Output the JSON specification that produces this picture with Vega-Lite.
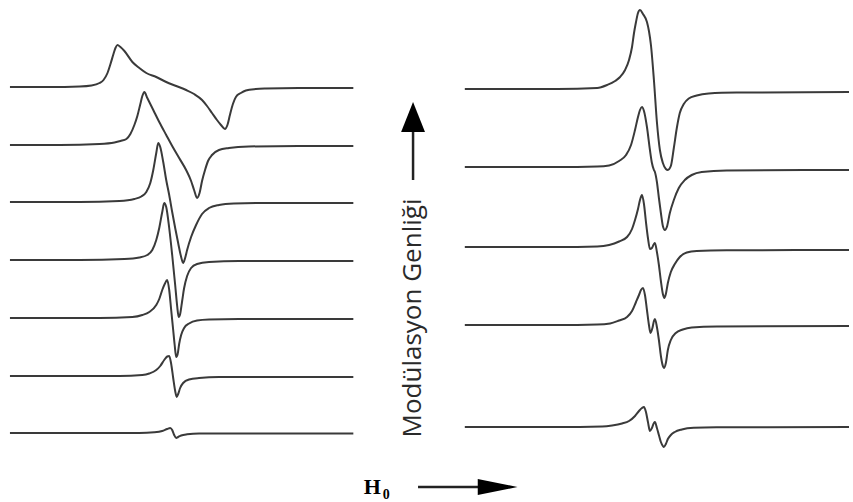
{
  "$schema": "https://vega.github.io/schema/vega-lite/v6.json",
  "width": 853,
  "height": 502,
  "padding": 0,
  "autosize": {"type": "fit", "contains": "padding"},
  "background": "white",
  "config": {"view": {"stroke": null}},
  "datasets": {
    "curves": [
      {"trace":"L1","H":10,"signal":87},{"trace":"L1","H":50,"signal":87},{"trace":"L1","H":80,"signal":86.5},{"trace":"L1","H":92,"signal":85.5},{"trace":"L1","H":100,"signal":83},{"trace":"L1","H":104,"signal":80},{"trace":"L1","H":108,"signal":73},{"trace":"L1","H":111,"signal":64},{"trace":"L1","H":114,"signal":54},{"trace":"L1","H":116,"signal":48},{"trace":"L1","H":118,"signal":45},{"trace":"L1","H":121,"signal":47},{"trace":"L1","H":125,"signal":51},{"trace":"L1","H":133,"signal":62},{"trace":"L1","H":140,"signal":68},{"trace":"L1","H":147,"signal":73},{"trace":"L1","H":157,"signal":77},{"trace":"L1","H":167,"signal":82},{"trace":"L1","H":177,"signal":86},{"trace":"L1","H":187,"signal":90},{"trace":"L1","H":195,"signal":94},{"trace":"L1","H":203,"signal":100},{"trace":"L1","H":208,"signal":106},{"trace":"L1","H":213,"signal":113},{"trace":"L1","H":218,"signal":120},{"trace":"L1","H":222,"signal":125},{"trace":"L1","H":226,"signal":129},{"trace":"L1","H":228.5,"signal":125},{"trace":"L1","H":231,"signal":115},{"trace":"L1","H":234,"signal":104},{"trace":"L1","H":237,"signal":97},{"trace":"L1","H":242,"signal":93},{"trace":"L1","H":247,"signal":90.5},{"trace":"L1","H":257,"signal":89},{"trace":"L1","H":267,"signal":88.5},{"trace":"L1","H":300,"signal":88},{"trace":"L1","H":355,"signal":88},
      {"trace":"L2","H":10,"signal":145},{"trace":"L2","H":60,"signal":145},{"trace":"L2","H":100,"signal":144},{"trace":"L2","H":115,"signal":142.5},{"trace":"L2","H":121,"signal":141},{"trace":"L2","H":127,"signal":139},{"trace":"L2","H":131,"signal":134},{"trace":"L2","H":135,"signal":125},{"trace":"L2","H":138,"signal":116},{"trace":"L2","H":141,"signal":104},{"trace":"L2","H":143,"signal":96},{"trace":"L2","H":145,"signal":92},{"trace":"L2","H":148,"signal":98},{"trace":"L2","H":154,"signal":110},{"trace":"L2","H":160,"signal":122},{"trace":"L2","H":167,"signal":135},{"trace":"L2","H":173,"signal":146},{"trace":"L2","H":180,"signal":158},{"trace":"L2","H":187,"signal":170},{"trace":"L2","H":192,"signal":181},{"trace":"L2","H":195,"signal":190},{"trace":"L2","H":198,"signal":198},{"trace":"L2","H":200.5,"signal":193},{"trace":"L2","H":203,"signal":181},{"trace":"L2","H":206,"signal":170},{"trace":"L2","H":209,"signal":161},{"trace":"L2","H":213,"signal":155},{"trace":"L2","H":220,"signal":150},{"trace":"L2","H":230,"signal":148},{"trace":"L2","H":250,"signal":146.5},{"trace":"L2","H":300,"signal":146},{"trace":"L2","H":355,"signal":146},
      {"trace":"L3","H":10,"signal":202},{"trace":"L3","H":80,"signal":202},{"trace":"L3","H":120,"signal":201},{"trace":"L3","H":135,"signal":199},{"trace":"L3","H":142,"signal":196.5},{"trace":"L3","H":147,"signal":192},{"trace":"L3","H":151,"signal":183},{"trace":"L3","H":154,"signal":170},{"trace":"L3","H":157,"signal":153},{"trace":"L3","H":159,"signal":143},{"trace":"L3","H":161,"signal":147},{"trace":"L3","H":164,"signal":162},{"trace":"L3","H":167,"signal":180},{"trace":"L3","H":170,"signal":195},{"trace":"L3","H":173,"signal":212},{"trace":"L3","H":176,"signal":228},{"trace":"L3","H":179,"signal":243},{"trace":"L3","H":182,"signal":257},{"trace":"L3","H":184,"signal":263},{"trace":"L3","H":186,"signal":258},{"trace":"L3","H":188,"signal":250},{"trace":"L3","H":192,"signal":237},{"trace":"L3","H":197,"signal":225},{"trace":"L3","H":203,"signal":214},{"trace":"L3","H":210,"signal":208},{"trace":"L3","H":220,"signal":205},{"trace":"L3","H":235,"signal":203.5},{"trace":"L3","H":260,"signal":203},{"trace":"L3","H":355,"signal":203},
      {"trace":"L4","H":10,"signal":260},{"trace":"L4","H":80,"signal":260},{"trace":"L4","H":125,"signal":259},{"trace":"L4","H":140,"signal":257.5},{"trace":"L4","H":148,"signal":255},{"trace":"L4","H":153,"signal":250},{"trace":"L4","H":157,"signal":240},{"trace":"L4","H":160,"signal":228},{"trace":"L4","H":163,"signal":212},{"trace":"L4","H":165,"signal":203},{"trace":"L4","H":167,"signal":207},{"trace":"L4","H":170,"signal":228},{"trace":"L4","H":173,"signal":255},{"trace":"L4","H":176,"signal":285},{"trace":"L4","H":178,"signal":306},{"trace":"L4","H":179.5,"signal":317},{"trace":"L4","H":181,"signal":314},{"trace":"L4","H":183,"signal":301},{"trace":"L4","H":185,"signal":288},{"trace":"L4","H":188,"signal":276},{"trace":"L4","H":192,"signal":268},{"trace":"L4","H":198,"signal":264},{"trace":"L4","H":210,"signal":262},{"trace":"L4","H":240,"signal":261},{"trace":"L4","H":355,"signal":261},
      {"trace":"L5","H":10,"signal":318},{"trace":"L5","H":100,"signal":318},{"trace":"L5","H":133,"signal":317},{"trace":"L5","H":143,"signal":315},{"trace":"L5","H":150,"signal":312},{"trace":"L5","H":157,"signal":305},{"trace":"L5","H":160,"signal":299},{"trace":"L5","H":163,"signal":290},{"trace":"L5","H":165.5,"signal":284},{"trace":"L5","H":168,"signal":280},{"trace":"L5","H":170,"signal":290},{"trace":"L5","H":172,"signal":310},{"trace":"L5","H":174,"signal":330},{"trace":"L5","H":175.5,"signal":345},{"trace":"L5","H":177,"signal":357},{"trace":"L5","H":178.5,"signal":354},{"trace":"L5","H":180,"signal":344},{"trace":"L5","H":182,"signal":335},{"trace":"L5","H":185,"signal":328},{"trace":"L5","H":190,"signal":323.5},{"trace":"L5","H":198,"signal":320.5},{"trace":"L5","H":210,"signal":319.5},{"trace":"L5","H":240,"signal":319},{"trace":"L5","H":355,"signal":319},
      {"trace":"L6","H":10,"signal":376},{"trace":"L6","H":120,"signal":376},{"trace":"L6","H":143,"signal":375},{"trace":"L6","H":150,"signal":373.5},{"trace":"L6","H":157,"signal":370},{"trace":"L6","H":161,"signal":366},{"trace":"L6","H":165,"signal":360},{"trace":"L6","H":168,"signal":356.5},{"trace":"L6","H":170,"signal":356},{"trace":"L6","H":172,"signal":364},{"trace":"L6","H":174,"signal":378},{"trace":"L6","H":176,"signal":391},{"trace":"L6","H":177.5,"signal":397},{"trace":"L6","H":179,"signal":394},{"trace":"L6","H":181,"signal":388},{"trace":"L6","H":184,"signal":383},{"trace":"L6","H":190,"signal":379.5},{"trace":"L6","H":200,"signal":378},{"trace":"L6","H":220,"signal":377},{"trace":"L6","H":355,"signal":377},
      {"trace":"L7","H":10,"signal":433},{"trace":"L7","H":140,"signal":433},{"trace":"L7","H":155,"signal":432.3},{"trace":"L7","H":163,"signal":431},{"trace":"L7","H":168,"signal":429},{"trace":"L7","H":171,"signal":428},{"trace":"L7","H":173,"signal":430},{"trace":"L7","H":175,"signal":435},{"trace":"L7","H":177,"signal":438},{"trace":"L7","H":179,"signal":437},{"trace":"L7","H":182,"signal":435.5},{"trace":"L7","H":188,"signal":434.3},{"trace":"L7","H":200,"signal":433.5},{"trace":"L7","H":355,"signal":433.5},
      {"trace":"R1","H":467,"signal":89},{"trace":"R1","H":560,"signal":89},{"trace":"R1","H":600,"signal":88},{"trace":"R1","H":610,"signal":85},{"trace":"R1","H":618,"signal":81},{"trace":"R1","H":623,"signal":77},{"trace":"R1","H":628,"signal":70},{"trace":"R1","H":632,"signal":60},{"trace":"R1","H":635,"signal":47},{"trace":"R1","H":637,"signal":33},{"trace":"R1","H":639,"signal":22},{"trace":"R1","H":641,"signal":13},{"trace":"R1","H":643,"signal":10},{"trace":"R1","H":646,"signal":14},{"trace":"R1","H":650,"signal":22},{"trace":"R1","H":652,"signal":31},{"trace":"R1","H":654,"signal":45},{"trace":"R1","H":657,"signal":80},{"trace":"R1","H":660,"signal":122},{"trace":"R1","H":663,"signal":150},{"trace":"R1","H":666,"signal":163},{"trace":"R1","H":669,"signal":169},{"trace":"R1","H":671,"signal":170},{"trace":"R1","H":674,"signal":166},{"trace":"R1","H":677,"signal":148},{"trace":"R1","H":680,"signal":128},{"trace":"R1","H":683,"signal":113},{"trace":"R1","H":687,"signal":104},{"trace":"R1","H":692,"signal":98.5},{"trace":"R1","H":700,"signal":95.5},{"trace":"R1","H":712,"signal":93.5},{"trace":"R1","H":740,"signal":92.5},{"trace":"R1","H":853,"signal":92},
      {"trace":"R2","H":467,"signal":167},{"trace":"R2","H":560,"signal":167},{"trace":"R2","H":600,"signal":166.5},{"trace":"R2","H":612,"signal":165.5},{"trace":"R2","H":622,"signal":161},{"trace":"R2","H":629,"signal":155},{"trace":"R2","H":634,"signal":145},{"trace":"R2","H":638,"signal":130},{"trace":"R2","H":641,"signal":117},{"trace":"R2","H":643,"signal":110},{"trace":"R2","H":645,"signal":107},{"trace":"R2","H":647,"signal":111},{"trace":"R2","H":650,"signal":127},{"trace":"R2","H":653,"signal":150},{"trace":"R2","H":655,"signal":163},{"trace":"R2","H":657,"signal":170},{"trace":"R2","H":658,"signal":172},{"trace":"R2","H":660,"signal":182},{"trace":"R2","H":662,"signal":198},{"trace":"R2","H":664,"signal":213},{"trace":"R2","H":666,"signal":226},{"trace":"R2","H":668,"signal":230},{"trace":"R2","H":670,"signal":227},{"trace":"R2","H":673,"signal":213},{"trace":"R2","H":677,"signal":200},{"trace":"R2","H":682,"signal":188},{"trace":"R2","H":688,"signal":180},{"trace":"R2","H":695,"signal":175},{"trace":"R2","H":705,"signal":172},{"trace":"R2","H":730,"signal":170.5},{"trace":"R2","H":853,"signal":170},
      {"trace":"R3","H":467,"signal":247},{"trace":"R3","H":560,"signal":247},{"trace":"R3","H":600,"signal":246.5},{"trace":"R3","H":612,"signal":245},{"trace":"R3","H":622,"signal":241.5},{"trace":"R3","H":630,"signal":237},{"trace":"R3","H":635,"signal":229},{"trace":"R3","H":638,"signal":220},{"trace":"R3","H":641,"signal":209},{"trace":"R3","H":643,"signal":200},{"trace":"R3","H":645,"signal":195},{"trace":"R3","H":647,"signal":204},{"trace":"R3","H":649,"signal":222},{"trace":"R3","H":651,"signal":238},{"trace":"R3","H":653,"signal":249},{"trace":"R3","H":655,"signal":248},{"trace":"R3","H":657,"signal":244},{"trace":"R3","H":658,"signal":243},{"trace":"R3","H":660,"signal":252},{"trace":"R3","H":662,"signal":265},{"trace":"R3","H":664,"signal":281},{"trace":"R3","H":666,"signal":294},{"trace":"R3","H":667.5,"signal":298},{"trace":"R3","H":669,"signal":294},{"trace":"R3","H":671,"signal":283},{"trace":"R3","H":674,"signal":272},{"trace":"R3","H":678,"signal":264},{"trace":"R3","H":683,"signal":257},{"trace":"R3","H":690,"signal":252.5},{"trace":"R3","H":700,"signal":251},{"trace":"R3","H":730,"signal":250.3},{"trace":"R3","H":853,"signal":250},
      {"trace":"R4","H":467,"signal":325},{"trace":"R4","H":560,"signal":325},{"trace":"R4","H":600,"signal":324.5},{"trace":"R4","H":613,"signal":323.5},{"trace":"R4","H":622,"signal":320.5},{"trace":"R4","H":630,"signal":317},{"trace":"R4","H":635,"signal":311},{"trace":"R4","H":639,"signal":302},{"trace":"R4","H":642,"signal":295},{"trace":"R4","H":644,"signal":290},{"trace":"R4","H":646,"signal":288},{"trace":"R4","H":648,"signal":295},{"trace":"R4","H":650,"signal":310},{"trace":"R4","H":652,"signal":325},{"trace":"R4","H":653.5,"signal":333},{"trace":"R4","H":655.5,"signal":328},{"trace":"R4","H":657,"signal":321},{"trace":"R4","H":658,"signal":319},{"trace":"R4","H":660,"signal":327},{"trace":"R4","H":662,"signal":340},{"trace":"R4","H":664,"signal":356},{"trace":"R4","H":666,"signal":366},{"trace":"R4","H":667,"signal":368},{"trace":"R4","H":669,"signal":363},{"trace":"R4","H":671,"signal":350},{"trace":"R4","H":674,"signal":340},{"trace":"R4","H":679,"signal":333},{"trace":"R4","H":686,"signal":329.5},{"trace":"R4","H":695,"signal":327.5},{"trace":"R4","H":720,"signal":326.5},{"trace":"R4","H":853,"signal":326},
      {"trace":"R5","H":467,"signal":427},{"trace":"R5","H":560,"signal":427},{"trace":"R5","H":605,"signal":426.5},{"trace":"R5","H":615,"signal":425.5},{"trace":"R5","H":625,"signal":423.5},{"trace":"R5","H":632,"signal":421},{"trace":"R5","H":638,"signal":416},{"trace":"R5","H":642,"signal":411},{"trace":"R5","H":645,"signal":408},{"trace":"R5","H":647,"signal":407},{"trace":"R5","H":649,"signal":412},{"trace":"R5","H":651,"signal":422},{"trace":"R5","H":653,"signal":431},{"trace":"R5","H":655,"signal":428},{"trace":"R5","H":657,"signal":423},{"trace":"R5","H":658,"signal":422},{"trace":"R5","H":660,"signal":428},{"trace":"R5","H":662,"signal":435},{"trace":"R5","H":664,"signal":442},{"trace":"R5","H":666,"signal":446},{"trace":"R5","H":667,"signal":447},{"trace":"R5","H":669,"signal":444},{"trace":"R5","H":671,"signal":439},{"trace":"R5","H":674,"signal":435},{"trace":"R5","H":678,"signal":432},{"trace":"R5","H":685,"signal":429.5},{"trace":"R5","H":697,"signal":427.8},{"trace":"R5","H":720,"signal":427.3},{"trace":"R5","H":853,"signal":427}
    ],
    "shafts": [
      {"H":415,"signal":130,"H2":415,"signal2":180},
      {"H":420,"signal":487,"H2":484,"signal2":487}
    ],
    "headUp": [
      {"H":403,"signal":132,"base":132},
      {"H":415,"signal":102,"base":132},
      {"H":427,"signal":132,"base":132}
    ],
    "headRight": [
      {"signal":479,"H":480,"base":480},
      {"signal":487,"H":520,"base":480},
      {"signal":495,"H":480,"base":480}
    ],
    "axisLabel": [
      {"label":"Modülasyon Genliği","H":415,"signal":318}
    ],
    "fieldLabel": [
      {"label":"H","H":374,"signal":494}
    ],
    "fieldSub": [
      {"label":"0","H":388,"signal":499}
    ]
  },
  "encoding": {
    "x": {"field":"H","type":"quantitative","scale":{"domain":[0,853],"nice":false,"zero":false},"axis":null},
    "y": {"field":"signal","type":"quantitative","scale":{"domain":[0,502],"nice":false,"zero":false,"reverse":true},"axis":null}
  },
  "layer": [
    {
      "data": {"name":"curves"},
      "mark": {"type":"line","interpolate":"monotone","stroke":"#3a3a3a","strokeWidth":2},
      "encoding": {"detail":{"field":"trace","type":"nominal"}}
    },
    {
      "data": {"name":"shafts"},
      "mark": {"type":"rule","stroke":"#222222","strokeWidth":2.5},
      "encoding": {"x2":{"field":"H2"},"y2":{"field":"signal2"}}
    },
    {
      "data": {"name":"headUp"},
      "mark": {"type":"area","fill":"#000000","orient":"vertical"},
      "encoding": {"y2":{"field":"base"}}
    },
    {
      "data": {"name":"headRight"},
      "mark": {"type":"area","fill":"#000000","orient":"horizontal"},
      "encoding": {"x2":{"field":"base"}}
    },
    {
      "data": {"name":"axisLabel"},
      "mark": {"type":"text","angle":270,"align":"center","baseline":"middle","font":"Open Sans","fontSize":26,"fill":"#2a2a2a"},
      "encoding": {"text":{"field":"label"}}
    },
    {
      "data": {"name":"fieldLabel"},
      "mark": {"type":"text","align":"center","baseline":"alphabetic","font":"Liberation Serif","fontWeight":"bold","fontSize":22,"fill":"#000000"},
      "encoding": {"text":{"field":"label"}}
    },
    {
      "data": {"name":"fieldSub"},
      "mark": {"type":"text","align":"center","baseline":"alphabetic","font":"Liberation Serif","fontWeight":"bold","fontSize":14,"fill":"#000000"},
      "encoding": {"text":{"field":"label"}}
    }
  ]
}
